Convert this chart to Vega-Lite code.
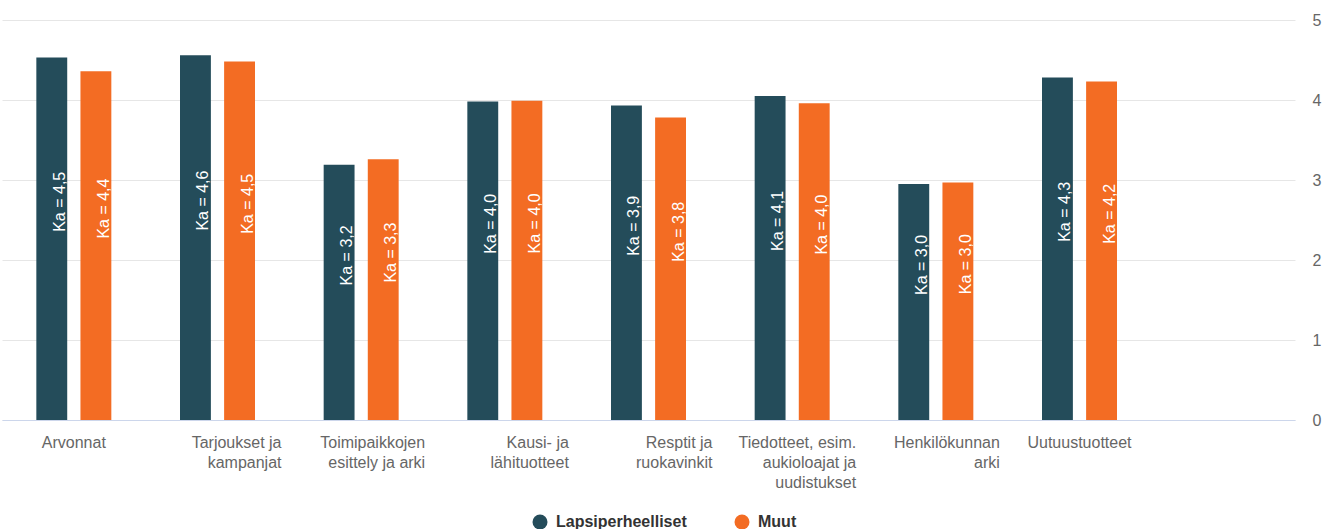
{
  "$schema": "https://vega.github.io/schema/vega-lite/v6.json",
  "autosize": "none",
  "width": 1293,
  "height": 400,
  "padding": {"left": 2, "top": 20, "right": 28, "bottom": 109},
  "background": "white",
  "config": {
    "font": "Liberation Sans",
    "view": {"stroke": null}
  },
  "data": {
    "values": [
      {"category": "Arvonnat", "series": "Lapsiperheelliset", "value": 4.53, "label": "Ka = 4,5"},
      {"category": "Arvonnat", "series": "Muut", "value": 4.36, "label": "Ka = 4,4"},
      {"category": "Tarjoukset ja\nkampanjat", "series": "Lapsiperheelliset", "value": 4.56, "label": "Ka = 4,6"},
      {"category": "Tarjoukset ja\nkampanjat", "series": "Muut", "value": 4.48, "label": "Ka = 4,5"},
      {"category": "Toimipaikkojen\nesittely ja arki", "series": "Lapsiperheelliset", "value": 3.19, "label": "Ka = 3,2"},
      {"category": "Toimipaikkojen\nesittely ja arki", "series": "Muut", "value": 3.26, "label": "Ka = 3,3"},
      {"category": "Kausi- ja\nlähituotteet", "series": "Lapsiperheelliset", "value": 3.98, "label": "Ka = 4,0"},
      {"category": "Kausi- ja\nlähituotteet", "series": "Muut", "value": 3.99, "label": "Ka = 4,0"},
      {"category": "Resptit ja\nruokavinkit", "series": "Lapsiperheelliset", "value": 3.93, "label": "Ka = 3,9"},
      {"category": "Resptit ja\nruokavinkit", "series": "Muut", "value": 3.78, "label": "Ka = 3,8"},
      {"category": "Tiedotteet, esim.\naukioloajat ja\nuudistukset", "series": "Lapsiperheelliset", "value": 4.05, "label": "Ka = 4,1"},
      {"category": "Tiedotteet, esim.\naukioloajat ja\nuudistukset", "series": "Muut", "value": 3.96, "label": "Ka = 4,0"},
      {"category": "Henkilökunnan\narki", "series": "Lapsiperheelliset", "value": 2.95, "label": "Ka = 3,0"},
      {"category": "Henkilökunnan\narki", "series": "Muut", "value": 2.97, "label": "Ka = 3,0"},
      {"category": "Uutuustuotteet", "series": "Lapsiperheelliset", "value": 4.28, "label": "Ka = 4,3"},
      {"category": "Uutuustuotteet", "series": "Muut", "value": 4.23, "label": "Ka = 4,2"}
    ]
  },
  "encoding": {
    "x": {
      "field": "category",
      "type": "nominal",
      "sort": null,
      "scale": {
        "domain": ["Arvonnat", "Tarjoukset ja\nkampanjat", "Toimipaikkojen\nesittely ja arki", "Kausi- ja\nlähituotteet", "Resptit ja\nruokavinkit", "Tiedotteet, esim.\naukioloajat ja\nuudistukset", "Henkilökunnan\narki", "Uutuustuotteet", " "],
        "paddingInner": 0.478,
        "paddingOuter": 0.239
      },
      "axis": {
        "title": null,
        "orient": "bottom",
        "domainColor": "#ccd6eb",
        "domainWidth": 1,
        "ticks": false,
        "labelAngle": 0,
        "labelExpr": "split(datum.label, '\\n')",
        "labelAlign": {"condition": {"test": "indexof(datum.value, '\\n') >= 0", "value": "right"}, "value": "center"},
        "labelOffset": {"condition": {"test": "indexof(datum.value, '\\n') >= 0", "value": 64}, "value": 0},
        "labelBaseline": "top",
        "labelPadding": 14,
        "labelLineHeight": 20,
        "labelColor": "#666666",
        "labelFontSize": 16,
        "labelFont": "Liberation Sans",
        "labelLimit": 400,
        "labelOverlap": false,
        "labelBound": false
      }
    },
    "xOffset": {
      "field": "series",
      "type": "nominal",
      "scale": {"domain": ["Lapsiperheelliset", "Muut"], "paddingInner": 0.3, "paddingOuter": 0}
    }
  },
  "layer": [
    {
      "mark": {"type": "bar"},
      "encoding": {
        "y": {
          "field": "value",
          "type": "quantitative",
          "scale": {"domain": [0, 5], "nice": false},
          "axis": {
            "title": null,
            "orient": "right",
            "values": [0, 1, 2, 3, 4, 5],
            "format": "d",
            "grid": true,
            "gridColor": "#e6e6e6",
            "gridWidth": 1,
            "domain": false,
            "ticks": false,
            "labelPadding": 17,
            "labelAlign": "left",
            "labelColor": "#666666",
            "labelFontSize": 16,
            "labelFont": "Liberation Sans"
          }
        },
        "color": {
          "field": "series",
          "type": "nominal",
          "scale": {"domain": ["Lapsiperheelliset", "Muut"], "range": ["#244c5a", "#f36c23"]},
          "legend": {
            "title": null,
            "orient": "none",
            "legendX": 530,
            "legendY": 494,
            "direction": "horizontal",
            "symbolType": "circle",
            "symbolSize": 225,
            "symbolStrokeWidth": 0,
            "labelFontSize": 16,
            "labelFontWeight": "bold",
            "labelColor": "#333333",
            "labelFont": "Liberation Sans",
            "labelOffset": 8,
            "columnPadding": 47
          }
        }
      }
    },
    {
      "transform": [{"calculate": "datum.value / 2", "as": "mid"}],
      "mark": {
        "type": "text",
        "angle": 270,
        "align": "center",
        "baseline": "alphabetic",
        "dx": 37,
        "dy": 13,
        "fontSize": 16,
        "font": "Liberation Sans",
        "color": "#ffffff"
      },
      "encoding": {
        "y": {"field": "mid", "type": "quantitative"},
        "text": {"field": "label", "type": "nominal"}
      }
    }
  ]
}
